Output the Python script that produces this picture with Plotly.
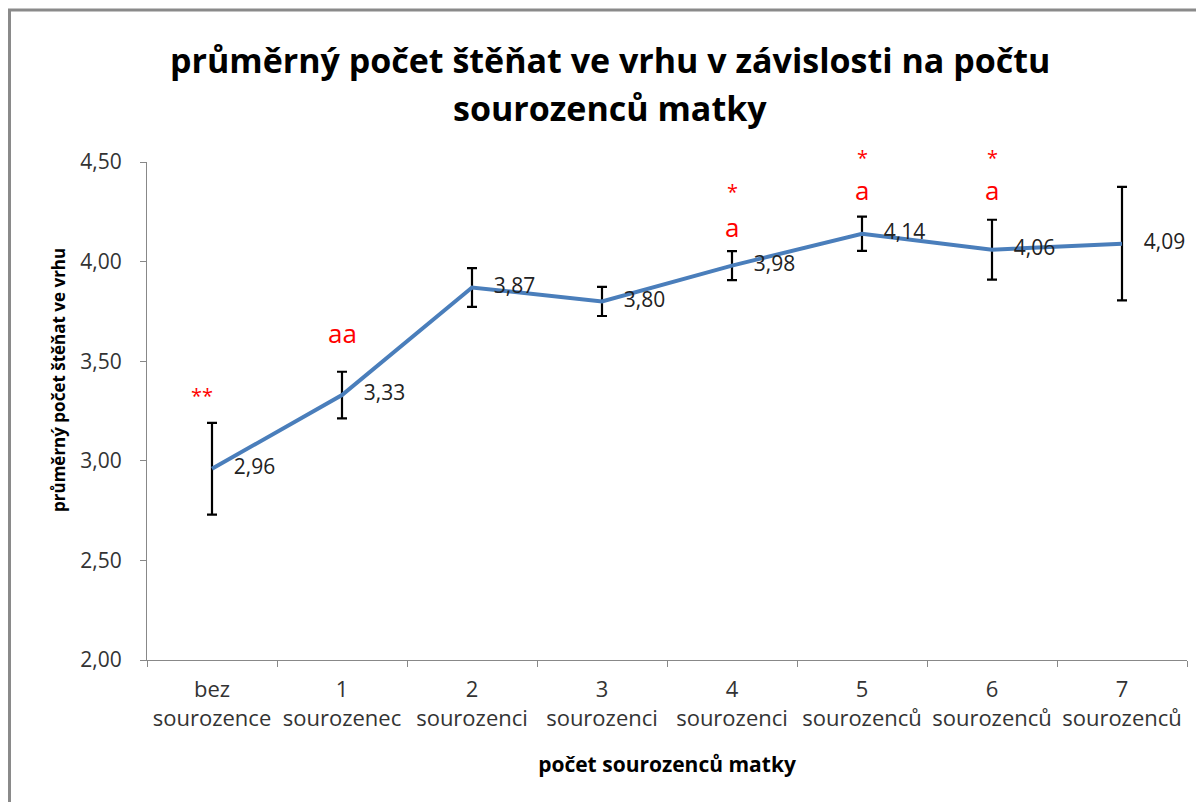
import plotly.graph_objects as go

categories = ["bez<br>sourozence", "1<br>sourozenec", "2<br>sourozenci", "3<br>sourozenci",
              "4<br>sourozenci", "5<br>sourozenců", "6<br>sourozenců", "7<br>sourozenců"]
means = [2.96, 3.33, 3.87, 3.80, 3.98, 4.14, 4.06, 4.09]
errors = [0.23, 0.117, 0.097, 0.073, 0.073, 0.086, 0.15, 0.285]

# significance marks (category index, text, y position in data units)
sig_idx = [0, 1, 4, 4, 5, 5, 6, 6]
sig_text = ["**", "aa", "a", "*", "a", "*", "a", "*"]
sig_y = [3.33, 3.64, 4.174, 4.354, 4.36, 4.525, 4.36, 4.525]

title_lines = ["průměrný počet štěňat ve vrhu v závislosti na počtu", "sourozenců matky"]
x_title = "počet sourozenců matky"
y_title = "průměrný počet štěňat ve vrhu"

FONT = "Open Sans"
labels = [f"{v:.2f}".replace(".", ",") for v in means]

Y_MIN, Y_MAX = 2.0, 4.5

# figure is placed by the page with an 8px body margin
W, H = 1196, 794
ML, MR, MT, MB = 139, 17, 154, 142
PW, PH = W - ML - MR, H - MT - MB
PX_PER_UNIT = PH / (Y_MAX - Y_MIN)

fig = go.Figure()
fig.add_trace(go.Scatter(
    x=categories, y=means, mode="lines+text",
    line=dict(color="#4a7ebb", width=4),
    text=labels, textposition="middle right",
    texttemplate="    %{text}",
    textfont=dict(family=FONT, size=21, color="#222"),
    error_y=dict(type="data", array=errors, visible=True, color="black",
                 thickness=2.2, width=5),
    cliponaxis=False, showlegend=False, hoverinfo="skip",
))

annotations = []
for i, t, y in zip(sig_idx, sig_text, sig_y):
    y_anchor = min(y, Y_MAX)
    annotations.append(dict(x=categories[i], y=y_anchor, xref="x", yref="y", text=t,
                            showarrow=False, xshift=(-10 if t == "**" else 0),
                            yshift=(y - y_anchor) * PX_PER_UNIT,
                            yanchor="middle",
                            font=dict(family=FONT, size=(20 if "*" in t else 26), color="#ff0000")))

for txt, ypx in zip(title_lines, [60, 108]):
    annotations.append(dict(x=(610 - 147) / PW, y=(660 - ypx) / PH, xref="paper", yref="paper",
                            text=f"<b>{txt}</b>",
                            showarrow=False, xanchor="center", yanchor="middle",
                            font=dict(family=FONT, size=34, color="black")))

# y-axis title
annotations.append(dict(x=(58 - 147) / PW, y=(660 - 380) / PH, xref="paper", yref="paper",
                        text=f"<b>{y_title}</b>", textangle=-90, showarrow=False,
                        xanchor="center", yanchor="middle",
                        font=dict(family=FONT, size=17, color="black")))

fig.update_layout(
    width=W, height=H,
    margin=dict(l=ML, r=MR, t=MT, b=MB),
    paper_bgcolor="white", plot_bgcolor="white",
    separators=", ",
    font=dict(family=FONT, size=21, color="#333"),
    annotations=annotations,
    shapes=[dict(type="rect", xref="paper", yref="paper",
                 x0=(1.5 - ML) / PW, x1=1 + (MR + 20) / PW,
                 y0=-(MB + 20) / PH, y1=1 + (MT - 2) / PH,
                 line=dict(color="#8a8a8a", width=3), layer="below")],
)
fig.update_xaxes(
    range=[-0.5, 7.5], showgrid=False, showline=True, linecolor="#888", linewidth=1,
    ticks="outside", ticklen=6, tickcolor="#888", tickson="boundaries",
    ticklabelstandoff=10,
    tickfont=dict(family=FONT, size=22, color="#333"),
    title=dict(text=f"<b>{x_title}</b>", font=dict(family=FONT, size=21, color="black"), standoff=26),
)
fig.update_yaxes(
    range=[Y_MIN, Y_MAX], dtick=0.5, tickformat=".2f", showgrid=False, showline=True,
    linecolor="#888", linewidth=1, ticks="outside", ticklen=6, tickcolor="#888",
    ticklabelstandoff=14,
    tickfont=dict(family=FONT, size=21, color="#333"), zeroline=False,
)

fig.write_html("out.html")
